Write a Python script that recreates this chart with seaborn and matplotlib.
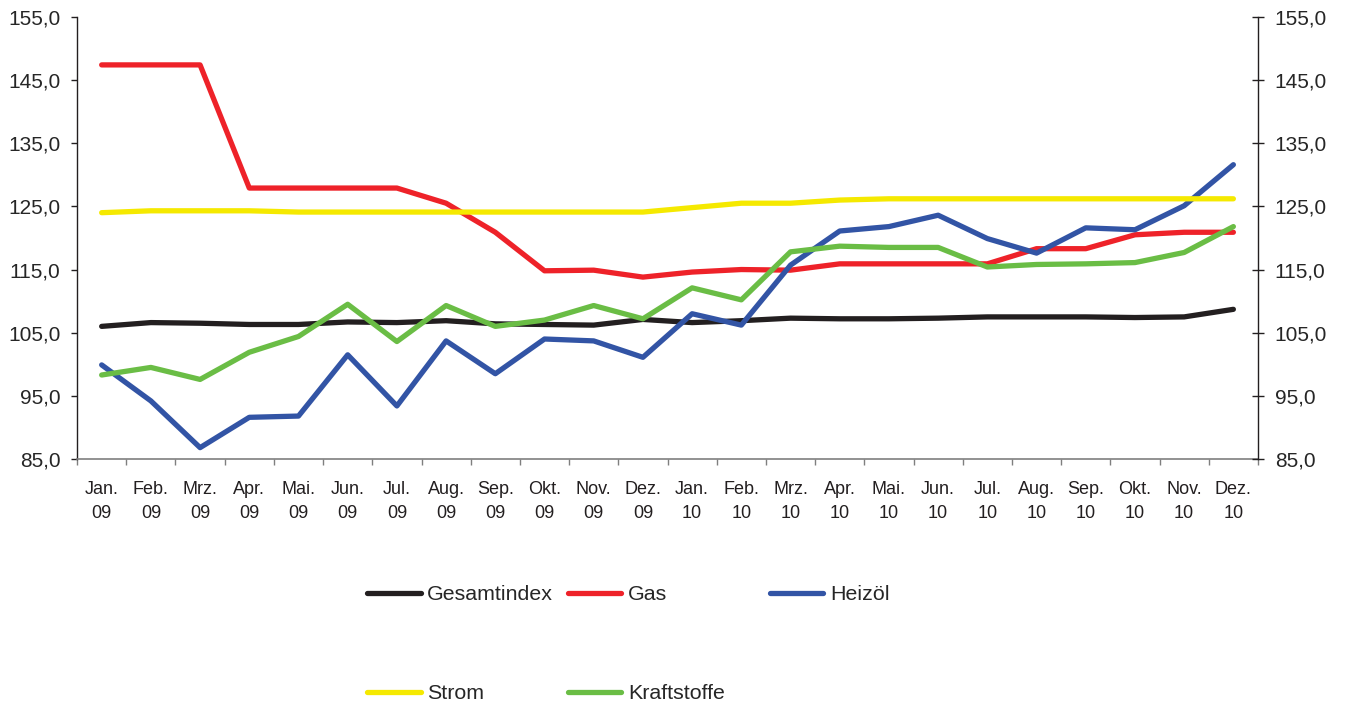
import pandas as pd
import matplotlib
matplotlib.use("Agg")
import matplotlib.pyplot as plt
from matplotlib.lines import Line2D
from matplotlib.ticker import FuncFormatter, FixedLocator
import seaborn as sns

# Monate Jan. 09 bis Dez. 10
months = ["Jan.", "Feb.", "Mrz.", "Apr.", "Mai.", "Jun.", "Jul.", "Aug.",
          "Sep.", "Okt.", "Nov.", "Dez."]
labels = [f"{m}\n09" for m in months] + [f"{m}\n10" for m in months]

gesamtindex = [106.0, 106.6, 106.5, 106.3, 106.3, 106.7, 106.6, 106.9, 106.4, 106.3, 106.2, 107.1,
               106.6, 106.9, 107.3, 107.2, 107.2, 107.3, 107.5, 107.5, 107.5, 107.4, 107.5, 108.7]
gas = [147.4, 147.4, 147.4, 127.9, 127.9, 127.9, 127.9, 125.5, 120.9, 114.8, 114.9, 113.8,
       114.6, 115.0, 114.9, 115.9, 115.9, 115.9, 115.9, 118.3, 118.3, 120.5, 120.9, 120.9]
heizoel = [99.9, 94.2, 86.8, 91.6, 91.8, 101.5, 93.4, 103.7, 98.5, 104.0, 103.7, 101.1,
           108.0, 106.2, 115.7, 121.1, 121.8, 123.6, 119.9, 117.6, 121.6, 121.3, 125.1, 131.6]
strom = [124.0, 124.3, 124.3, 124.3, 124.1, 124.1, 124.1, 124.1, 124.1, 124.1, 124.1, 124.1,
         124.8, 125.5, 125.5, 126.0, 126.2, 126.2, 126.2, 126.2, 126.2, 126.2, 126.2, 126.2]
kraftstoffe = [98.3, 99.5, 97.6, 101.9, 104.4, 109.5, 103.6, 109.3, 106.0, 107.0, 109.3, 107.2,
               112.1, 110.2, 117.8, 118.7, 118.5, 118.5, 115.4, 115.8, 115.9, 116.1, 117.7, 121.8]

series = ["Gesamtindex", "Gas", "Heizöl", "Strom", "Kraftstoffe"]
colors = {"Gesamtindex": "#231f20", "Gas": "#ee2229", "Heizöl": "#3254a5",
          "Strom": "#f5e900", "Kraftstoffe": "#6abd45"}

df = pd.DataFrame({"Monat": labels, "Gesamtindex": gesamtindex, "Gas": gas,
                   "Heizöl": heizoel, "Strom": strom, "Kraftstoffe": kraftstoffe})
long = df.melt(id_vars="Monat", var_name="Reihe", value_name="Index")

sns.set_style("white")
plt.rcParams["font.family"] = ["Liberation Sans", "DejaVu Sans"]

fig = plt.figure(figsize=(13.45, 7.04), dpi=100)
ax = fig.add_axes([0.0573, 0.348, 0.878, 0.628])

sns.lineplot(data=long, x="Monat", y="Index", hue="Reihe", hue_order=series,
             palette=colors, linewidth=3.8, legend=False, ax=ax, sort=False)
for ln in ax.get_lines():
    ln.set_solid_capstyle("round")
    ln.set_solid_joinstyle("round")

ax.set_xlim(-0.5, len(labels) - 0.5)
ax.set_ylim(85, 155)
yticks = [85, 95, 105, 115, 125, 135, 145, 155]
fmt = FuncFormatter(lambda v, p: f"{v:.1f}".replace(".", ","))
ax.set_yticks(yticks)
ax.yaxis.set_major_formatter(fmt)
ax.set_xlabel("")
ax.set_ylabel("")

# x ticks: labels at centres, tick marks between months
ax.xaxis.set_minor_locator(FixedLocator([i - 0.5 for i in range(len(labels) + 1)]))
ax.tick_params(axis="x", which="major", length=0, pad=16, labelsize=13, colors="#231f20")
ax.tick_params(axis="x", which="minor", length=4.5, width=1, color="#7f7f7f", bottom=True)
for t in ax.get_xticklabels():
    t.set_linespacing(1.5)
ax.tick_params(axis="y", direction="out", length=4, width=1, color="#231f20",
               labelsize=15, pad=8, left=True)

ax.spines["top"].set_visible(False)
ax.spines["right"].set_visible(False)
ax.spines["left"].set_color("#231f20")
ax.spines["bottom"].set_color("#7f7f7f")
ax.spines["left"].set_linewidth(1)
ax.spines["bottom"].set_linewidth(1.2)

ax2 = ax.twinx()
ax2.set_ylim(85, 155)
ax2.set_yticks(yticks)
ax2.yaxis.set_major_formatter(fmt)
ax2.tick_params(axis="y", direction="inout", length=8, width=1, color="#231f20",
                labelsize=15, pad=8)
for s in ["top", "left", "bottom"]:
    ax2.spines[s].set_visible(False)
ax2.spines["right"].set_color("#231f20")
ax2.spines["right"].set_linewidth(1)

# Legend: three columns at fixed positions
def handle(name):
    return Line2D([], [], color=colors[name], linewidth=3.8, solid_capstyle="round")

leg_kw = dict(frameon=False, fontsize=15.4, handlelength=2.5, handletextpad=0.3,
              borderpad=0, borderaxespad=0, labelspacing=3.75, loc="center left")
columns = [(0.2729, 0.085, ["Gesamtindex", "Strom"]),
           (0.4223, 0.085, ["Gas", "Kraftstoffe"]),
           (0.5725, 0.155, ["Heizöl"])]
for x, y, names in columns:
    fig.legend([handle(n) for n in names], names, bbox_to_anchor=(x, y), **leg_kw)

fig.savefig("out.png", dpi=100)
